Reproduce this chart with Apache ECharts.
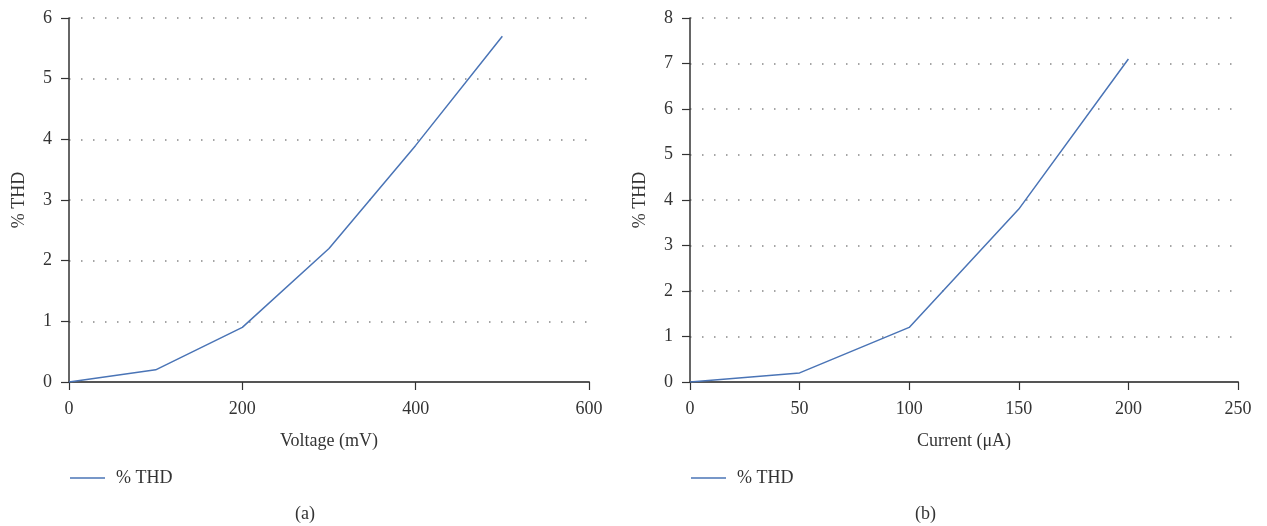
<!DOCTYPE html>
<html>
<head>
<meta charset="utf-8">
<script src="https://cdn.jsdelivr.net/npm/echarts@6/dist/echarts.min.js"></script>
<style>
    html, body { margin: 0; padding: 0; background: #fff; }
    #chart { width: 1267px; height: 526px; }
</style>
</head>
<body>
<div id="chart"></div>
<script>
// panel (a): THD vs voltage
var voltage = [0, 100, 200, 300, 400, 500];
var thdVoltage = [0, 0.2, 0.9, 2.2, 3.9, 5.7];
// panel (b): THD vs current
var current = [0, 50, 100, 150, 200];
var thdCurrent = [0, 0.2, 1.2, 3.8, 7.1];

var seriesName = '% THD';
var lineColor = '#4a74b6';
var font = 'Liberation Serif';
var fontSize = 18;

function pairs(xs, ys) {
    return xs.map(function (x, i) { return [x, ys[i]]; });
}

function xAxisOf(idx, name, max, step) {
    return {
        type: 'value', gridIndex: idx, min: 0, max: max, interval: step,
        name: name, nameLocation: 'middle', nameGap: 50,
        nameTextStyle: { fontFamily: font, fontSize: fontSize, color: '#333' },
        axisLine: { lineStyle: { color: '#555', width: 2 } },
        axisTick: { show: true, length: 8, lineStyle: { color: '#333', width: 1.2 } },
        axisLabel: { fontFamily: font, fontSize: fontSize, color: '#333', margin: 18 },
        splitLine: { show: false }
    };
}

function yAxisOf(idx, max) {
    return {
        type: 'value', gridIndex: idx, min: 0, max: max, interval: 1,
        name: seriesName, nameLocation: 'middle', nameGap: 41, nameRotate: 90,
        nameTextStyle: { fontFamily: font, fontSize: fontSize, color: '#333' },
        axisLine: { show: true, lineStyle: { color: '#333', width: 1.5 } },
        axisTick: { show: true, length: 8, lineStyle: { color: '#333', width: 1.2 } },
        axisLabel: { fontFamily: font, fontSize: fontSize, color: '#333', margin: 17 },
        splitLine: { show: true, lineStyle: { color: '#888', width: 1.5, type: [1.5, 10.5] } }
    };
}

function legendOf(x, name) {
    return {
        left: x, top: 464, itemWidth: 35, itemHeight: 1.5, itemGap: 8,
        data: [{ name: name, icon: 'rect' }],
        formatter: function (n) { return n.trim(); },
        textStyle: { fontFamily: font, fontSize: fontSize, color: '#333', padding: [0, 0, 0, 6] }
    };
}

var myChart = echarts.init(document.getElementById('chart'), null, { renderer: 'canvas' });
var option = {
    animation: false,
    backgroundColor: '#fff',
    grid: [
        { left: 69, top: 18, width: 520, height: 364 },
        { left: 690, top: 18, width: 548, height: 364 }
    ],
    xAxis: [
        xAxisOf(0, 'Voltage (mV)', 600, 200),
        xAxisOf(1, 'Current (μA)', 250, 50)
    ],
    yAxis: [
        yAxisOf(0, 6),
        yAxisOf(1, 8)
    ],
    legend: [
        legendOf(65, seriesName),
        legendOf(686, seriesName + ' ')
    ],
    title: [
        { text: '(a)', left: 290, top: 500, textStyle: { fontFamily: font, fontSize: fontSize, fontWeight: 'normal', color: '#333' } },
        { text: '(b)', left: 910, top: 500, textStyle: { fontFamily: font, fontSize: fontSize, fontWeight: 'normal', color: '#333' } }
    ],
    series: [
        {
            name: seriesName, type: 'line', xAxisIndex: 0, yAxisIndex: 0,
            data: pairs(voltage, thdVoltage), symbol: 'none',
            lineStyle: { color: lineColor, width: 1.5 }, itemStyle: { color: lineColor }
        },
        {
            name: seriesName + ' ', type: 'line', xAxisIndex: 1, yAxisIndex: 1,
            data: pairs(current, thdCurrent), symbol: 'none',
            lineStyle: { color: lineColor, width: 1.5 }, itemStyle: { color: lineColor }
        }
    ]
};
myChart.setOption(option);
</script>
</body>
</html>
